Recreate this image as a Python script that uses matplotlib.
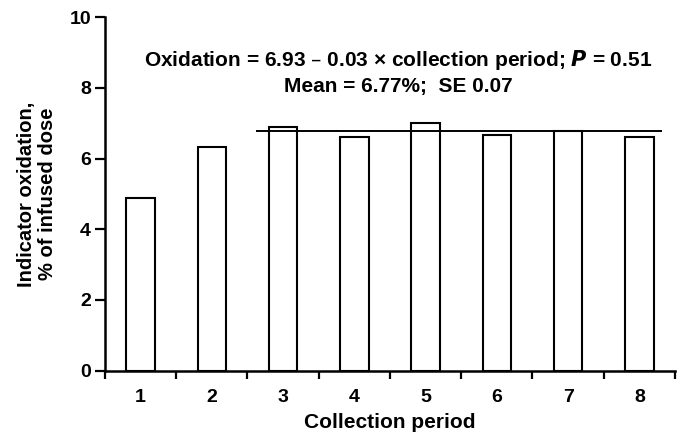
import numpy as np
import matplotlib
matplotlib.use("Agg")
import matplotlib.pyplot as plt

plt.rcParams['font.family'] = ['Liberation Sans', 'DejaVu Sans']
plt.rcParams['font.weight'] = 'bold'

# data
periods = [1, 2, 3, 4, 5, 6, 7, 8]
oxidation = [4.90, 6.33, 6.89, 6.60, 7.02, 6.67, 6.78, 6.62]
mean_ox = 6.77
mean_span = [2.62, 8.32]
yticks = [0, 2, 4, 6, 8, 10]

fig = plt.figure(figsize=(6.77, 4.33), dpi=100)
ax = fig.add_axes([0.155, 0.144, 0.842, 0.816])

ax.bar(periods, oxidation, width=0.4, color='white', edgecolor='black', linewidth=1.5, zorder=2)
ax.hlines(mean_ox, mean_span[0], mean_span[1], color='black', linewidth=1.4, zorder=3)

ax.set_xlim(0.5, 8.5)
ax.set_ylim(0, 10)
ax.set_yticks(yticks)
ax.set_xticks(periods)
ax.set_xticks(np.arange(0.5, 9, 1), minor=True)
ax.tick_params(axis='x', which='major', length=0, pad=13, labelsize=14)
ax.tick_params(axis='x', which='minor', length=6, width=1.6, direction='out')
ax.tick_params(axis='y', length=7, width=1.6, pad=3, labelsize=14)

for s in ['top', 'right']:
    ax.spines[s].set_visible(False)
for s in ['left', 'bottom']:
    ax.spines[s].set_linewidth(1.8)

ax.set_xlabel('Collection period', fontsize=15, fontweight='bold', labelpad=5)
ax.set_ylabel('Indicator oxidation,\n% of infused dose', fontsize=14.5, fontweight='bold',
              linespacing=1.1, labelpad=9)

ax.text(4.62, 8.79, r'Oxidation = 6.93 – 0.03 × collection period; $\bf{\it{P}}$ = 0.51',
        ha='center', va='center', fontsize=15, fontweight='bold')
ax.text(4.62, 8.03, 'Mean = 6.77%;  SE 0.07', ha='center', va='center',
        fontsize=15, fontweight='bold')

fig.savefig('out.png', dpi=100)
